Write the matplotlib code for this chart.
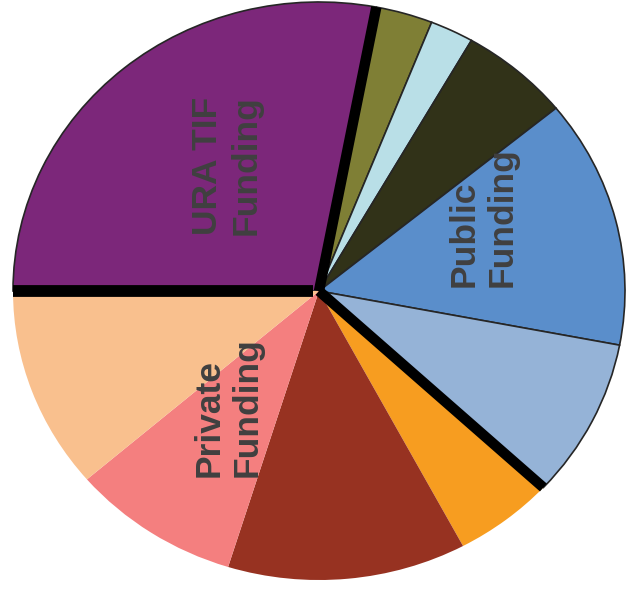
import numpy as np
import matplotlib
matplotlib.use('Agg')
from matplotlib import pyplot as plt

# slice shares (percent), clockwise from 9 o'clock
names = ['URA TIF', 'Public 1', 'Public 2', 'Public 3', 'Public 4', 'Public 5',
         'Private 1', 'Private 2', 'Private 3', 'Private 4']
shares = [28.0, 3.0, 2.3, 5.8, 13.9, 8.9, 5.3, 12.6, 8.9, 11.3]
colors = ['#7c277a', '#7f7f35', '#b9dfe7', '#313218', '#5a8ecb', '#95b3d7',
          '#f79d20', '#973221', '#f47f7f', '#f9c08e']
groups = ['ura', 'public', 'public', 'public', 'public', 'public',
          'private', 'private', 'private', 'private']
group_labels = {'ura': 'URA TIF\nFunding', 'public': 'Public\nFunding',
                'private': 'Private\nFunding'}

fig = plt.figure(figsize=(6.28, 5.89), dpi=100)
ax = fig.add_axes([0, 0, 1, 1])

wedges, _ = ax.pie(shares, colors=colors, startangle=180, counterclock=False,
                   radius=1.0)
for w, g in zip(wedges, groups):
    if g == 'private':
        w.set_edgecolor('none')
    else:
        w.set_edgecolor('#262626')
        w.set_linewidth(1.2)

# thick separators between the funding groups
cum = np.cumsum(shares)
for i in range(1, len(shares)):
    if groups[i] != groups[i - 1]:
        a = np.deg2rad(180 - cum[i - 1] * 3.6)
        ax.plot([0, np.cos(a)], [0, np.sin(a)], color='black', lw=7.5,
                solid_capstyle='butt', zorder=5)
ax.plot([-0.02, -1.0], [0, 0], color='black', lw=8.5, solid_capstyle='butt', zorder=5)

ax.set_aspect('auto')
ax.set_xlim(-1.0425, 1.0098)
ax.set_ylim(-1.0311, 1.0069)
ax.axis('off')

label_pos = {'ura': (0.361, 0.719), 'public': (0.769, 0.631), 'private': (0.363, 0.308)}
for g, (x, y) in label_pos.items():
    fig.text(x, y, group_labels[g], rotation=90, ha='center', va='center',
             multialignment='left', fontsize=25.5, fontweight='bold',
             family='Liberation Sans', color='#404040', linespacing=1.2)

fig.savefig('out.png', dpi=100)
